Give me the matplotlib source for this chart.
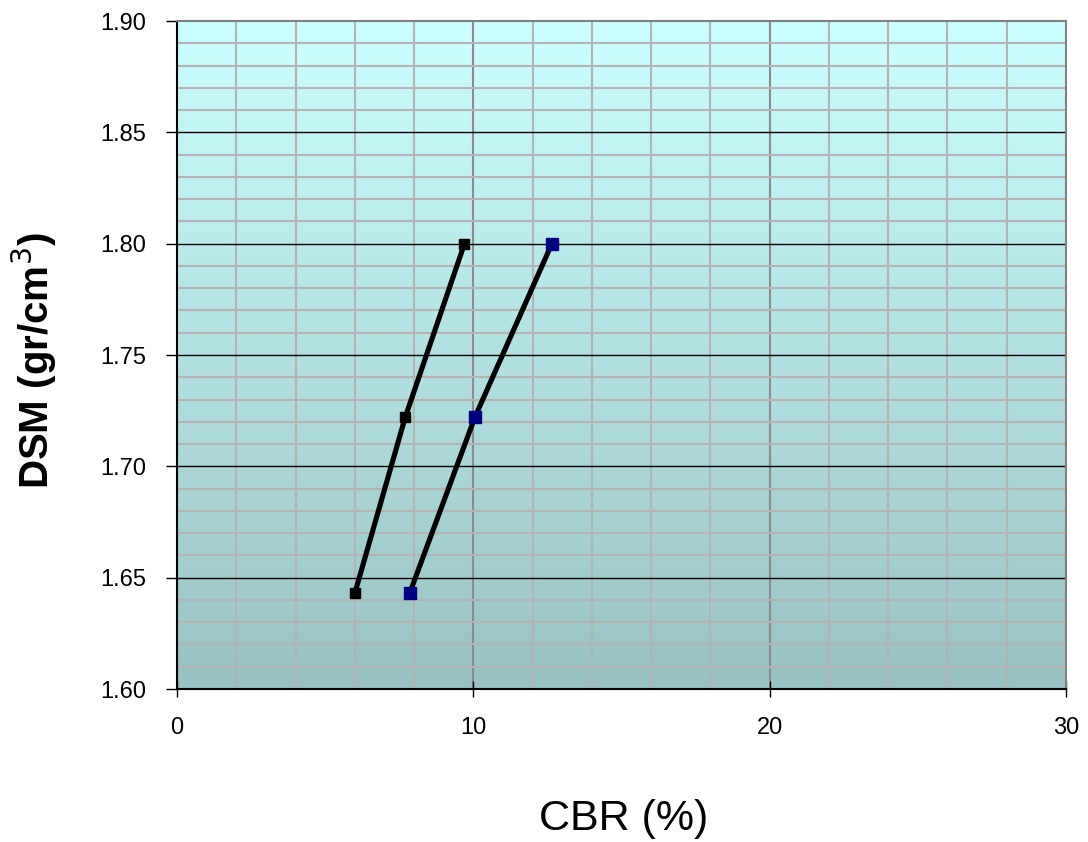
import numpy as np
import matplotlib.pyplot as plt
from matplotlib.colors import LinearSegmentedColormap

plt.rcParams['font.family'] = ['Liberation Sans', 'DejaVu Sans']

# data
dsm = [1.643, 1.722, 1.800]
cbr_1 = [6.0, 7.7, 9.7]
cbr_2 = [7.85, 10.05, 12.65]

fig = plt.figure(figsize=(10.88, 8.42), dpi=100)
ax = fig.add_axes([0.1627, 0.1817, 0.8171, 0.7933])

# gradient background
grad = np.linspace(0, 1, 256).reshape(-1, 1)
cmap = LinearSegmentedColormap.from_list('bg', ['#99c2c2', '#ccffff'])
ax.imshow(grad, cmap=cmap, aspect='auto', extent=[0, 30, 1.60, 1.90],
          origin='lower', zorder=0)

ax.set_xlim(0, 30)
ax.set_ylim(1.60, 1.90)

# grid lines
for x in np.arange(2, 30, 2):
    c = '#8c8c8c' if x % 10 == 0 else '#b4b4b4'
    ax.axvline(x, color=c, lw=1.5, zorder=1)
for i in range(1, 30):
    y = 1.60 + i * 0.01
    if i % 5 == 0:
        ax.axhline(y, color='black', lw=1.0, zorder=1.5)
    else:
        ax.axhline(y, color='#b4b4b4', lw=1.5, zorder=1)

ax.plot(cbr_1, dsm, color='black', lw=3.7, marker='s', ms=7,
        mfc='black', mec='black', zorder=3)
ax.plot(cbr_2, dsm, color='black', lw=3.7, marker='s', ms=8,
        mfc='#000080', mec='#000080', zorder=3)

ax.set_xticks([0, 10, 20, 30])
ax.set_yticks(np.arange(1.60, 1.91, 0.05))
ax.set_yticklabels([f'{v:.2f}' for v in np.arange(1.60, 1.91, 0.05)])
ax.tick_params(axis='x', direction='inout', length=12, width=1, labelsize=17, pad=14)
ax.tick_params(axis='y', direction='out', length=8, width=1, labelsize=17, pad=14)

ax.spines['left'].set_color('black')
ax.spines['bottom'].set_color('black')
ax.spines['top'].set_color('#808080')
ax.spines['right'].set_color('#808080')
for s in ax.spines.values():
    s.set_linewidth(1.5)

fig.text(0.573, 0.028 - 0.025, 'CBR (%)', fontsize=31, ha='center', va='bottom')
fig.text(0.032, 0.572, 'DSM (gr/cm$^3$)', fontsize=29, fontweight='bold',
         rotation=90, ha='center', va='center')

fig.savefig('out.png', dpi=100)
